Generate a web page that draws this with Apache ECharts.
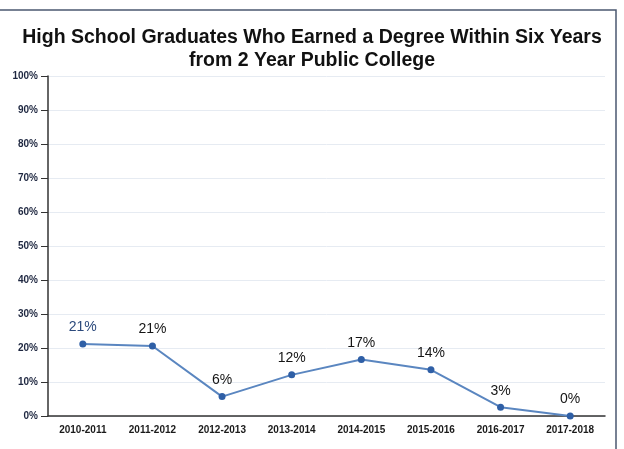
<!DOCTYPE html>
<html>
<head>
<meta charset="utf-8">
<script src="https://cdn.jsdelivr.net/npm/echarts@6/dist/echarts.min.js"></script>
<style>html,body{margin:0;padding:0;background:#fff;}#c{width:624px;height:449px;}</style>
</head>
<body>
<div id="c"></div>
<script>
const titleLines = ['High School Graduates Who Earned a Degree Within Six Years', 'from 2 Year Public College'];
const categories = ['2010-2011','2011-2012','2012-2013','2013-2014','2014-2015','2015-2016','2016-2017','2017-2018'];
const rates = [21.2, 20.6, 5.7, 12.1, 16.6, 13.6, 2.6, 0];
const yTicks = {min: 0, max: 100, interval: 10};

const titleStyle = {fontFamily: 'Liberation Sans', fontSize: 19.5, fontWeight: 'bold', color: '#111'};
const chart = echarts.init(document.getElementById('c'));
chart.setOption({
  animation: false,
  backgroundColor: '#fff',
  graphic: [{
    type: 'rect', silent: true, z: 100,
    shape: {x: -5, y: 10, width: 621, height: 460},
    style: {fill: 'none', stroke: '#4b5870', lineWidth: 1.5}
  }],
  title: titleLines.map((t, i) => ({
    text: t, left: 'center', top: 28 + i * 23, padding: [0, 9, 0, 0],
    textStyle: titleStyle
  })),
  grid: {left: 48, right: 19, top: 76, bottom: 33, containLabel: false},
  xAxis: {
    type: 'category', data: categories, boundaryGap: true,
    axisLine: {lineStyle: {color: '#333', width: 1.5}},
    axisTick: {alignWithLabel: true, length: 6, lineStyle: {color: '#333'}},
    axisLabel: {fontFamily: 'Liberation Sans', fontSize: 10, fontWeight: 'bold', color: '#1a1a1a', margin: 9, interval: 0}
  },
  yAxis: {
    type: 'value', min: yTicks.min, max: yTicks.max, interval: yTicks.interval,
    axisLine: {show: true, lineStyle: {color: '#333', width: 1.5}},
    axisTick: {show: true, length: 7, lineStyle: {color: '#333'}},
    axisLabel: {formatter: '{value}%', fontFamily: 'Liberation Sans', fontSize: 10, fontWeight: 'bold', color: '#1e2740', margin: 10},
    splitLine: {lineStyle: {color: '#e6ebf2', width: 1}}
  },
  series: [{
    type: 'line', data: rates.map((v, i) => ({
      value: v,
      label: i === 0 ? {color: '#2c4a7c'} : undefined
    })),
    symbol: 'circle', symbolSize: 7,
    lineStyle: {color: '#5a86c0', width: 2},
    itemStyle: {color: '#2f5fa6'},
    label: {
      show: true, position: 'top', distance: 6,
      formatter: p => Math.round(p.value) + '%',
      fontFamily: 'Liberation Sans', fontSize: 14, color: '#151515'
    },
    clip: false
  }]
});
</script>
</body>
</html>
